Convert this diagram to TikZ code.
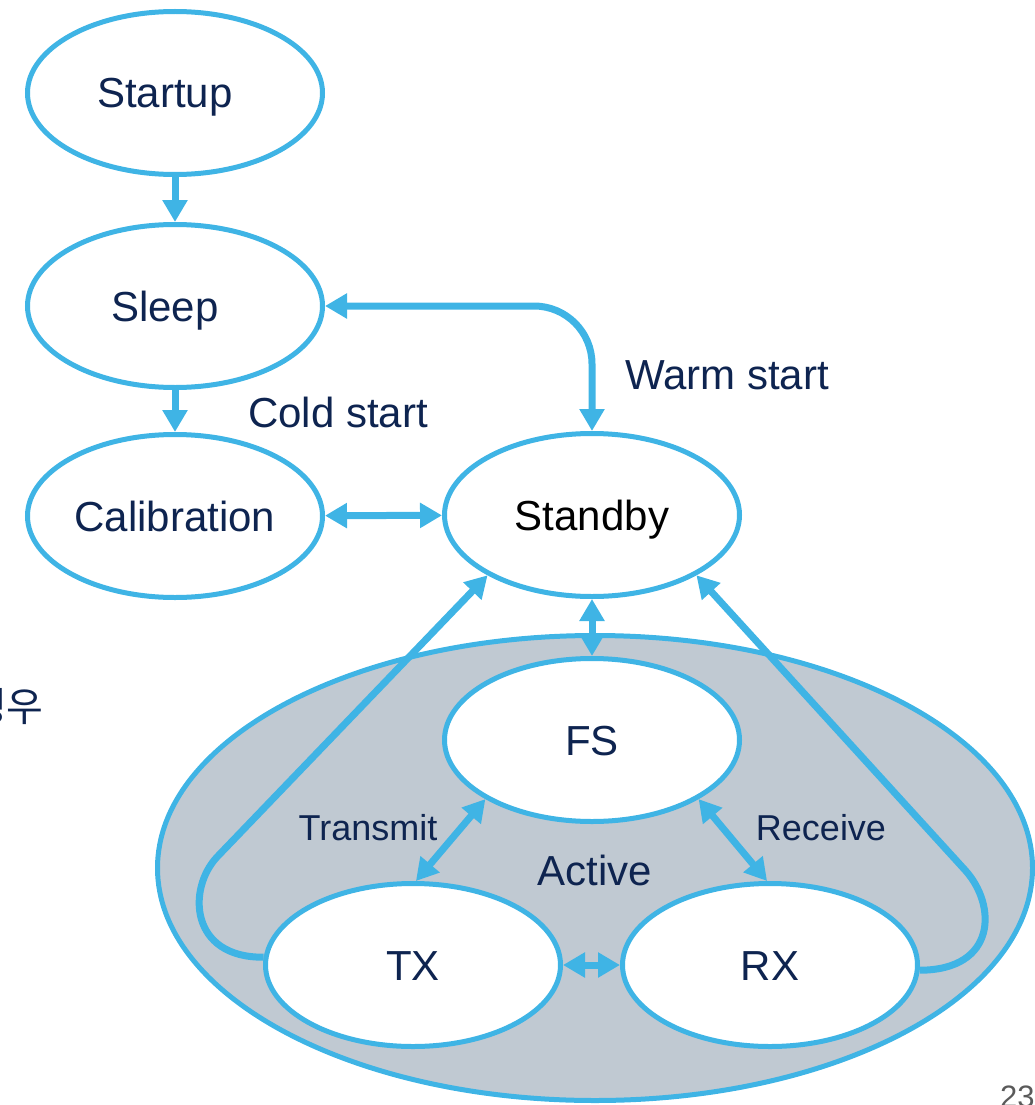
\documentclass[tikz,border=0pt]{standalone}
\usepackage{fontspec}
\setmainfont{Liberation Sans}
\newfontfamily\krfont{Noto Sans CJK KR}
\usetikzlibrary{shapes.geometric,arrows.meta,calc}
\definecolor{linkblue}{RGB}{63,180,229}
\definecolor{navy}{RGB}{14,36,80}
\definecolor{activefill}{RGB}{192,201,210}
\definecolor{pagegray}{RGB}{90,90,90}

\begin{document}
\begin{tikzpicture}[x=1pt,y=-1pt,
  >={Triangle[length=22pt,width=24pt]},
  state/.style={ellipse, draw=linkblue, line width=5pt, fill=white,
    minimum width=295pt, minimum height=163pt, inner sep=0pt,
    text height=30pt, text depth=0pt,
    text=navy, font=\fontsize{42pt}{48pt}\selectfont},
  group/.style={ellipse, draw=linkblue, line width=5pt, fill=activefill,
    minimum width=875pt, minimum height=465pt, inner sep=0pt,
    text height=30pt, text depth=0pt,
    text=navy, font=\fontsize{42pt}{48pt}\selectfont},
  conn/.style={draw=linkblue, line width=7pt},
  lbl/.style={text=navy, inner sep=0pt, font=\fontsize{42pt}{48pt}\selectfont},
  small/.style={font=\fontsize{36pt}{42pt}\selectfont}]

\useasboundingbox (0,0) rectangle (1035,1105);

% the Active group sits behind its states
\node[group] (active) at (595,868) {\raisebox{-2pt}{Active}};

% states
\node[state] (startup) at (175,93) {Startup\kern20pt};
\node[state] (sleep) at (175,306) {Sleep\kern20pt};
\node[state] (calib) at (175,516) {Calibration};
\node[state, text=black] (standby) at (592,515) {Standby};
\node[state] (fs) at (592,740) {FS};
\node[state] (tx) at (413,965) {TX};
\node[state] (rx) at (770,965) {RX};

% transitions
\draw[conn,->] (startup) -- (sleep);
\draw[conn,->] (sleep) -- (calib);
\draw[conn,<->] (calib) -- (standby);
\draw[conn,<->] (standby) -- (fs);
\draw[conn,<->] (fs.209) -- (tx.88);
\draw[conn,<->] (fs.331) -- (rx.92);
\draw[conn,<->] (tx) -- (rx);

\coordinate (sbend) at (standby.north |- sleep.east);
\draw[conn,<->,rounded corners=58pt] (sleep.east) -- (sbend) -- (standby.north);

\coordinate (lbend) at (217,857);
\draw[conn,->] (tx.177) .. controls (190,958) and (187,889) .. (lbend) -- (standby.210);

\coordinate (rbend) at (965,870);
\draw[conn,->] (rx.358) .. controls (997,970) and (997,905) .. (rbend) -- (standby.330);

% labels
\node[lbl] (cold) at (338,412) {Cold start};
\node[lbl] (warm) at (727,375) {Warm start};
\node[lbl,small] (transmit) at (368,828) {Transmit};
\node[lbl,small] (receive) at (821,828) {Receive};

% margin text and page number
\node[anchor=east, inner sep=0pt, text=navy, font=\krfont\fontsize{40pt}{44pt}\selectfont] (kr) at (44,707) {경우};
\node[anchor=north west, inner sep=0pt, text=pagegray, font=\fontsize{31pt}{34pt}\selectfont] (pgnum) at (1000,1086) {23};
\end{tikzpicture}
\end{document}
